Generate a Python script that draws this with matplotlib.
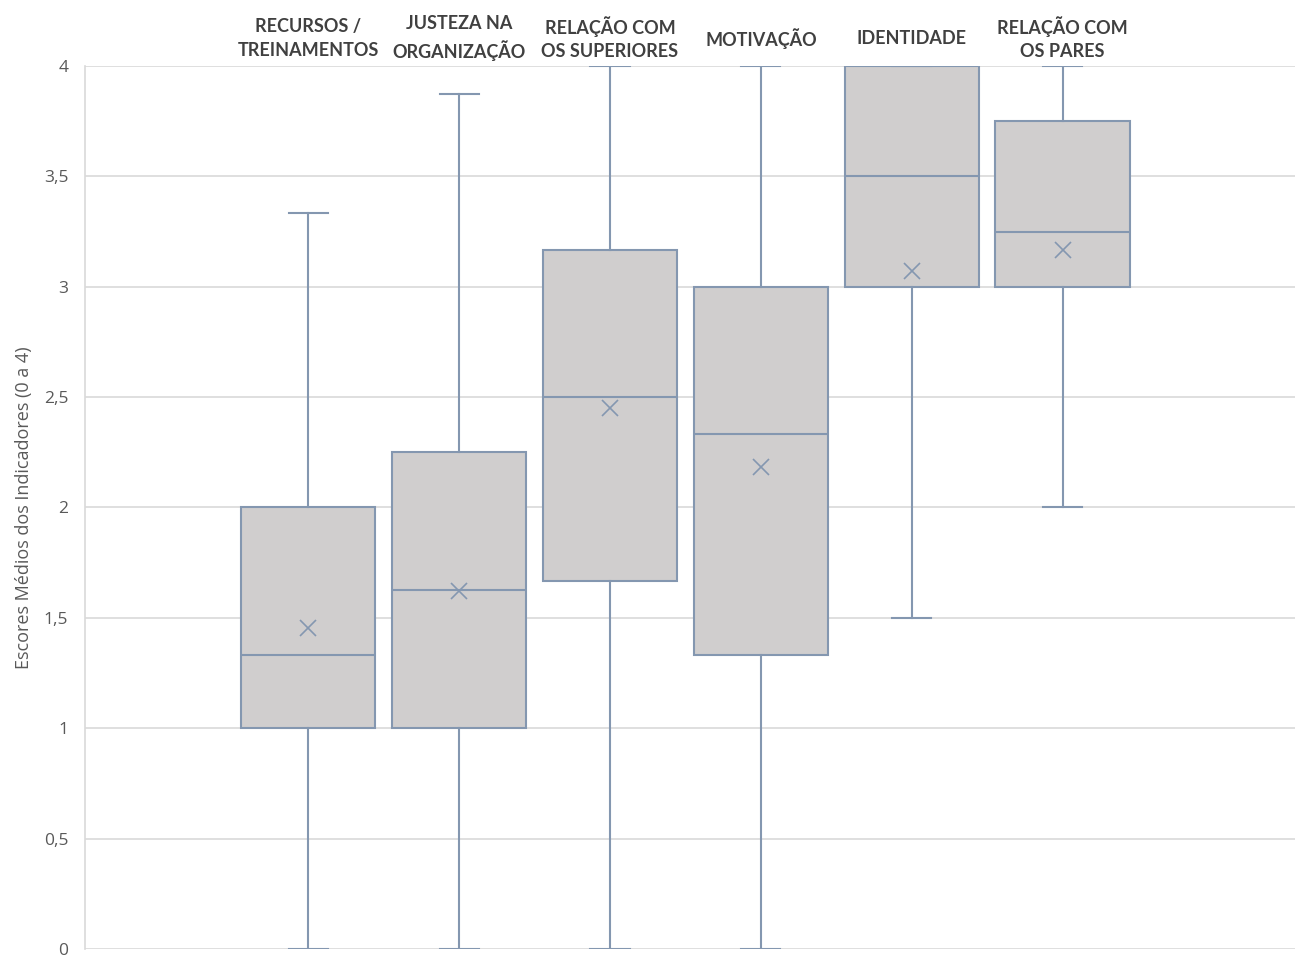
import matplotlib
matplotlib.use("Agg")
import matplotlib.pyplot as plt

# Dados (escala 0 a 4)
categorias = ["RECURSOS /\nTREINAMENTOS", "JUSTEZA NA\nORGANIZAÇÃO", "RELAÇÃO COM\nOS SUPERIORES",
              "MOTIVAÇÃO", "IDENTIDADE", "RELAÇÃO COM\nOS PARES"]
minimos = [0, 0, 0, 0, 1.5, 2.0]
q1 = [1.0, 1.0, 1.667, 1.333, 3.0, 3.0]
medianas = [1.333, 1.625, 2.5, 2.333, 3.5, 3.25]
q3 = [2.0, 2.25, 3.167, 3.0, 4.0, 3.75]
maximos = [3.333, 3.875, 4.0, 4.0, 4.0, 4.0]
medias = [1.454, 1.622, 2.451, 2.183, 3.071, 3.167]

cor_borda = "#8497B0"
cor_caixa = "#D0CECE"
cor_grade = "#D9D9D9"

stats = []
for i in range(len(categorias)):
    stats.append({
        "whislo": minimos[i], "q1": q1[i], "med": medianas[i],
        "q3": q3[i], "whishi": maximos[i], "mean": medias[i], "fliers": [],
    })

fig = plt.figure(figsize=(13.08, 9.73), dpi=100)
ax = fig.add_axes([0.065, 0.0247, 0.925, 0.9075])

posicoes = list(range(1, len(categorias) + 1))
ax.bxp(
    stats, positions=posicoes, widths=0.89, patch_artist=True,
    showmeans=True, showfliers=False,
    boxprops=dict(facecolor=cor_caixa, edgecolor=cor_borda, linewidth=1.5),
    medianprops=dict(color=cor_borda, linewidth=1.5),
    whiskerprops=dict(color=cor_borda, linewidth=1.5),
    capprops=dict(color=cor_borda, linewidth=1.5),
    meanprops=dict(marker="x", markeredgecolor=cor_borda, markersize=11, markeredgewidth=1.2),
    capwidths=0.26, zorder=3,
)

ax.set_xlim(-0.48, 7.54)
ax.set_ylim(0, 4)
ax.set_yticks([0, 0.5, 1, 1.5, 2, 2.5, 3, 3.5, 4])
ax.set_yticklabels(["0", "0,5", "1", "1,5", "2", "2,5", "3", "3,5", "4"],
                   fontsize=12.5, color="#595959", family="Open Sans")
ax.set_xticks([])
ax.tick_params(axis="y", length=0, pad=12)
ax.yaxis.grid(True, color=cor_grade, linewidth=1.2, zorder=0)
ax.set_axisbelow(True)

for lado in ["top", "right", "bottom"]:
    ax.spines[lado].set_visible(False)
ax.spines["left"].set_color(cor_grade)
ax.spines["left"].set_linewidth(1.2)

ax.set_ylabel("Escores Médios dos Indicadores (0 a 4)", fontsize=13, color="#595959",
              family="Open Sans", labelpad=8)

# rótulos das categorias acima das caixas
for x, nome in zip(posicoes, categorias):
    ax.text(x, 4.125, nome, ha="center", va="center", fontsize=13, fontweight="bold",
            color="#404040", family=["Lato", "DejaVu Sans"], linespacing=1.45, clip_on=False)

fig.savefig("out.png", dpi=100)
plt.close(fig)
